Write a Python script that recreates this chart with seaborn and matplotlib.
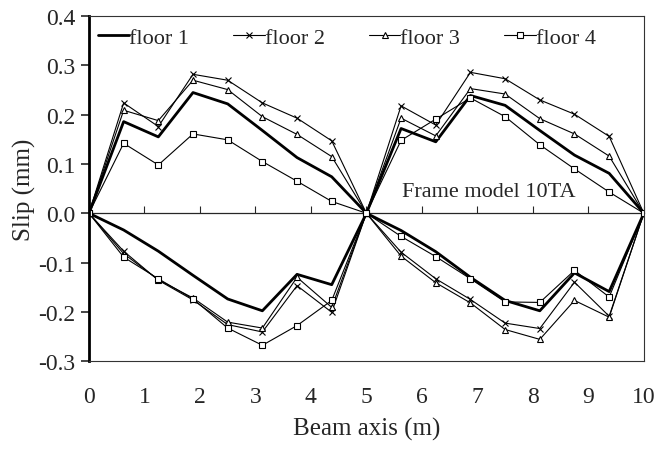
import matplotlib
matplotlib.use("Agg")
import matplotlib.pyplot as plt
import seaborn as sns
import pandas as pd
from matplotlib.lines import Line2D

# beam positions (m)
x_pos = [0, 0.625, 1.25, 1.875, 2.5, 3.125, 3.75, 4.375, 5,
         5.625, 6.25, 6.875, 7.5, 8.125, 8.75, 9.375, 10]

# slip (mm), positive and negative branch per floor
floor1_pos = [0, 0.186, 0.155, 0.245, 0.222, 0.168, 0.113, 0.074, 0,
              0.172, 0.145, 0.239, 0.219, 0.168, 0.118, 0.081, 0]
floor2_pos = [0, 0.224, 0.176, 0.282, 0.270, 0.224, 0.193, 0.147, 0,
              0.218, 0.179, 0.286, 0.273, 0.230, 0.201, 0.156, 0]
floor3_pos = [0, 0.209, 0.188, 0.270, 0.251, 0.196, 0.160, 0.115, 0,
              0.193, 0.157, 0.253, 0.242, 0.192, 0.161, 0.116, 0]
floor4_pos = [0, 0.142, 0.098, 0.161, 0.149, 0.105, 0.065, 0.024, 0,
              0.148, 0.191, 0.234, 0.196, 0.139, 0.090, 0.043, 0]

floor1_neg = [0, -0.034, -0.077, -0.126, -0.174, -0.198, -0.124, -0.145, 0,
              -0.035, -0.078, -0.130, -0.177, -0.198, -0.121, -0.159, 0]
floor2_neg = [0, -0.077, -0.136, -0.176, -0.226, -0.241, -0.147, -0.201, 0,
              -0.079, -0.133, -0.175, -0.223, -0.234, -0.140, -0.209, 0]
floor3_neg = [0, -0.082, -0.135, -0.172, -0.221, -0.233, -0.130, -0.191, 0,
              -0.087, -0.141, -0.182, -0.236, -0.256, -0.177, -0.211, 0]
floor4_neg = [0, -0.089, -0.133, -0.174, -0.233, -0.268, -0.228, -0.177, 0,
              -0.047, -0.088, -0.133, -0.180, -0.181, -0.116, -0.170, 0]

floors = ['floor 1', 'floor 2', 'floor 3', 'floor 4']
pos_series = [floor1_pos, floor2_pos, floor3_pos, floor4_pos]
neg_series = [floor1_neg, floor2_neg, floor3_neg, floor4_neg]
y_ticks = [-0.3, -0.2, -0.1, 0.0, 0.1, 0.2, 0.3, 0.4]

# estilo de cada andar
estilos = {
    'floor 1': dict(marker=None, lw=2.0),
    'floor 2': dict(marker='x', lw=0.8),
    'floor 3': dict(marker='^', lw=0.8),
    'floor 4': dict(marker='s', lw=0.8),
}

sns.set_style('ticks')
plt.rcParams['font.family'] = ['Liberation Serif', 'DejaVu Serif']

fig = plt.figure(figsize=(6.59, 4.52), dpi=100)
ax = fig.add_axes([0.135, 0.199, 0.842, 0.763])

for nome, pos, neg in zip(floors, pos_series, neg_series):
    st = estilos[nome]
    for ramo in (pos, neg):
        df = pd.DataFrame({'x': x_pos, 'slip': ramo})
        sns.lineplot(data=df, x='x', y='slip', ax=ax, color='black',
                     lw=st['lw'], marker=st['marker'], markersize=5,
                     markerfacecolor='white', markeredgecolor='black',
                     markeredgewidth=0.8, estimator=None, sort=False)

ax.set_xlim(0, 10)
ax.set_ylim(-0.3, 0.4)
ax.set_yticks(y_ticks)
ax.set_yticklabels([f'{v:.1f}' for v in y_ticks])
ax.set_xticks(range(0, 11))
ax.tick_params(axis='x', length=0, pad=18, labelsize=17)
ax.tick_params(axis='y', direction='out', length=6, width=1.2, labelsize=17, pad=4)
ax.set_xlabel('Beam axis (m)', fontsize=18, labelpad=7)
ax.set_ylabel('Slip (mm)', fontsize=18, labelpad=1)

for lado in ['top', 'right', 'bottom']:
    ax.spines[lado].set_linewidth(0.8)
    ax.spines[lado].set_color('#333333')
ax.spines['left'].set_linewidth(2.0)
ax.spines['left'].set_color('black')

# eixo horizontal em y = 0 com marcas para cima
eixo0 = ax.secondary_xaxis(0.3 / 0.7)
eixo0.set_xticks(range(0, 11))
eixo0.tick_params(axis='x', direction='in', length=5, width=0.8, labelbottom=False)
eixo0.spines['bottom'].set_linewidth(0.9)

ax.text(5.65, 0.045, 'Frame model 10TA', fontsize=16, ha='left', va='center')

handles = []
for nome in floors:
    st = estilos[nome]
    handles.append(Line2D([], [], color='black', lw=st['lw'] if nome == 'floor 1' else 0.8,
                          marker=st['marker'], markersize=5, markerfacecolor='white',
                          markeredgewidth=0.8))
ax.legend(handles, floors, ncol=4, loc='upper left', bbox_to_anchor=(-0.004, 1.0),
          frameon=False, fontsize=16, handlelength=1.4, handletextpad=0.0,
          columnspacing=2.0, borderaxespad=0.1)

plt.savefig('out.png', dpi=100)
